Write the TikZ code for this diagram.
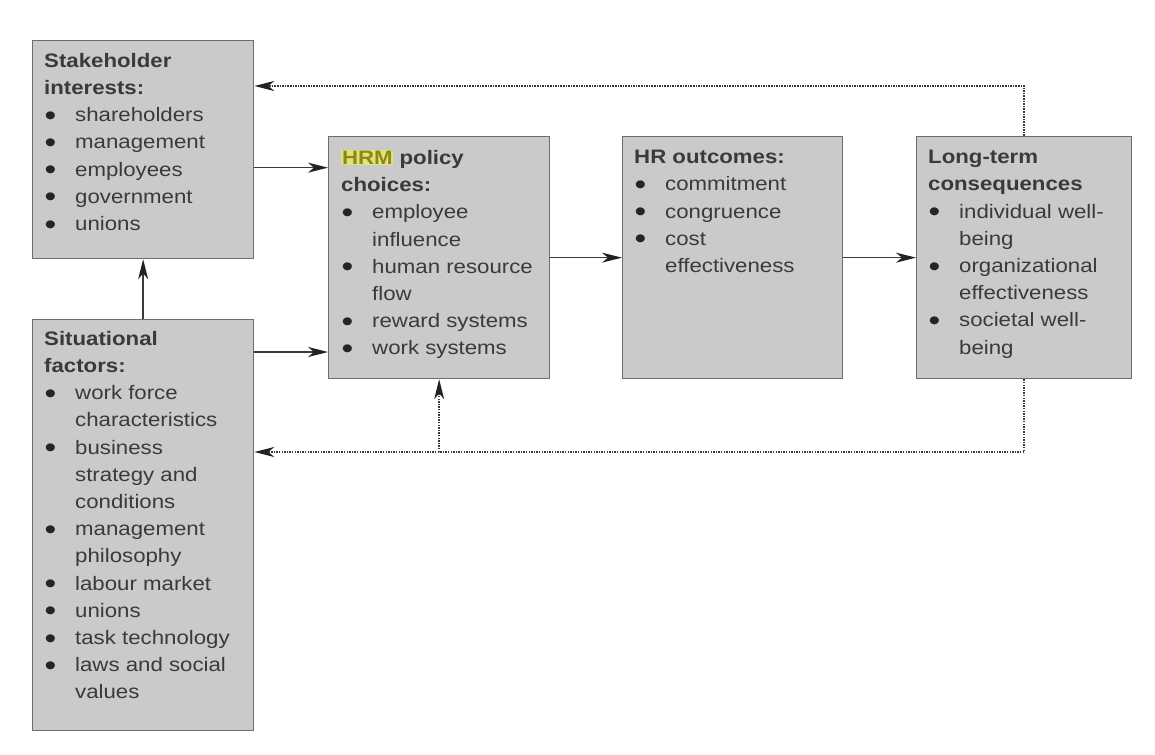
\documentclass[tikz,border=0pt]{standalone}
\usepackage{fontspec}
\setmainfont{Liberation Sans}[FakeStretch=1.14]
\usetikzlibrary{arrows.meta}
\definecolor{boxfill}{HTML}{CACACC}
\definecolor{boxline}{HTML}{6E6E6E}
\definecolor{txtc}{HTML}{3A3A3A}
\definecolor{bulc}{HTML}{252525}
\definecolor{hlbg}{HTML}{E2E27A}
\definecolor{hltx}{HTML}{8A8A1A}
\definecolor{arrc}{HTML}{3A3A3A}
\definecolor{tipc}{HTML}{222222}
\newcommand{\bitem}{\makebox[31pt][l]{\hspace{0.5pt}\raisebox{-3.6pt}{\scalebox{1.5}{\textcolor{bulc}{\textbullet}}}}}
\newcommand{\bcont}{\hspace*{31pt}}
\begin{document}
\begin{tikzpicture}[x=1pt,y=-1pt,
  font=\fontsize{19.5}{27.2}\selectfont,
  box/.style={draw=boxline, fill=boxfill, line width=1.3pt, anchor=north west, inner sep=0pt},
  lbl/.style={anchor=north west, align=left, inner sep=0pt, text=txtc},
  tip/.style={-{Stealth[length=20pt,width=10pt,inset=6pt,color=tipc]}},
  conn/.style={draw=arrc, line width=1.5pt, tip},
  fb/.style={draw=arrc, line width=1.6pt, dash pattern=on 1.5pt off 1.1pt, tip}]
\useasboundingbox (0,0) rectangle (1155,754);
\fill[white] (0,0) rectangle (1155,754);

% boxes
\node[box, minimum width=221pt, minimum height=218pt] (sh) at (32,40) {};
\node[box, minimum width=221pt, minimum height=411pt] (si) at (32,319) {};
\node[box, minimum width=221pt, minimum height=242pt] (hrm) at (328,136) {};
\node[box, minimum width=220pt, minimum height=242pt] (hro) at (622,136) {};
\node[box, minimum width=215pt, minimum height=242pt] (lt) at (916,136) {};

% texts
\node[lbl] (sht) at ([shift={(12pt,-13pt)}]sh.north west)
 {\textbf{Stakeholder}\\ \textbf{interests:}\\
  \bitem shareholders\\ \bitem management\\ \bitem employees\\
  \bitem government\\ \bitem unions};
\node[lbl] (sit) at ([shift={(12pt,-12pt)}]si.north west)
 {\textbf{Situational}\\ \textbf{factors:}\\
  \bitem work force\\ \bcont characteristics\\
  \bitem business\\ \bcont strategy and\\ \bcont conditions\\
  \bitem management\\ \bcont philosophy\\
  \bitem labour market\\ \bitem unions\\ \bitem task technology\\
  \bitem laws and social\\ \bcont values};
\node[lbl] (hrmt) at ([shift={(13pt,-14pt)}]hrm.north west)
 {\textbf{{\setlength{\fboxsep}{0.8pt}\colorbox{hlbg}{\textcolor{hltx}{HRM}}} policy}\\ \textbf{choices:}\\
  \bitem employee\\ \bcont influence\\
  \bitem human resource\\ \bcont flow\\
  \bitem reward systems\\ \bitem work systems};
\node[lbl] (hrot) at ([shift={(12pt,-14pt)}]hro.north west)
 {\textbf{HR outcomes:}\\
  \bitem commitment\\ \bitem congruence\\ \bitem cost\\ \bcont effectiveness};
\node[lbl] (ltt) at ([shift={(12pt,-14pt)}]lt.north west)
 {\textbf{Long-term}\\ \textbf{consequences}\\
  \bitem individual well-\\ \bcont being\\
  \bitem organizational\\ \bcont effectiveness\\
  \bitem societal well-\\ \bcont being};

% solid connectors
\draw[conn] ([yshift=-18pt]sh.east) -- ([yshift=-18pt]sh.east -| hrm.west);
\draw[conn] ([yshift=-33pt]si.north east) -- ([yshift=-33pt]si.north east -| hrm.west);
\draw[conn] (hrm.east) -- (hro.west);
\draw[conn] (hro.east) -- (lt.west);
\draw[conn] (si.north) -- (sh.south);

% feedback loops
\draw[fb] (lt.north) |- ([yshift=-46pt]sh.north east);
\coordinate (fbend) at ([yshift=-133pt]si.north east);
\draw[fb] (lt.south) |- (fbend);
\draw[fb] (fbend -| hrm.south) -- (hrm.south);
\end{tikzpicture}
\end{document}
